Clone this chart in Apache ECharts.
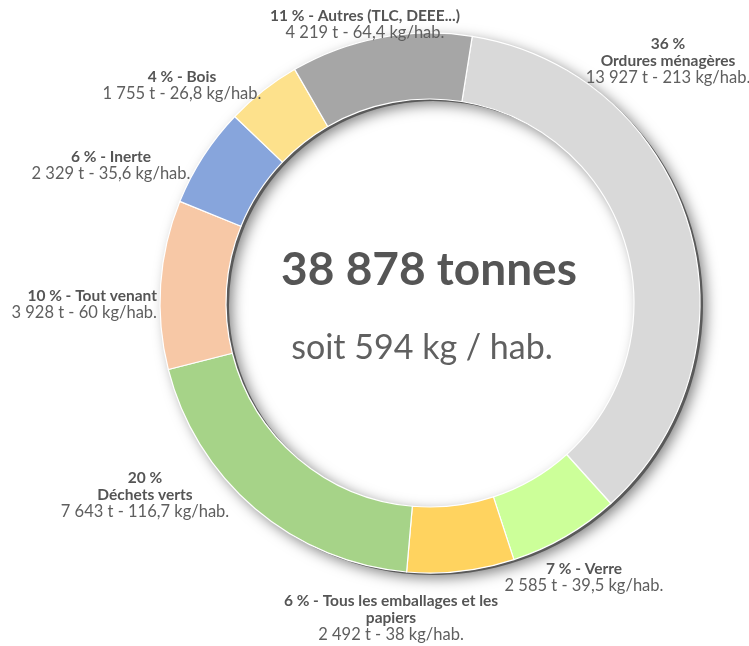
<!DOCTYPE html>
<html>
<head>
<meta charset="utf-8">
<script src="https://cdn.jsdelivr.net/npm/echarts@6/dist/echarts.min.js"></script>
<style>
  html, body { margin: 0; padding: 0; background: #fff; }
  #main { width: 749px; height: 646px; }
</style>
</head>
<body>
<div id="main"></div>
<script>
// ---- Data ----
const categories = ['Ordures ménagères', 'Verre', 'Tous les emballages et les\npapiers', 'Déchets verts', 'Tout venant', 'Inerte', 'Bois', 'Autres (TLC, DEEE...)'];
const tonnages = [13927, 2585, 2492, 7643, 3928, 2329, 1755, 4219];
const kgPerHab = [213, 39.5, 38, 116.7, 60, 35.6, 26.8, 64.4];
const percentLabels = [36, 7, 6, 20, 10, 6, 4, 11];

// ---- Styling / layout ----
const colors = ['#d9d9d9', '#ccff99', '#ffd35f', '#a6d388', '#f7c8a6', '#87a5dc', '#fde18c', '#a6a6a6'];
const stackedLabel = [true, false, false, true, false, false, false, false];
const labelAnchors = [
  [668, 35, 'center'],
  [584, 560, 'center'],
  [391, 592, 'center'],
  [145, 469, 'center'],
  [157, 287, 'right'],
  [111, 148, 'center'],
  [182, 68, 'center'],
  [365, 7, 'center']
];
const FONT = 'Lato, "Open Sans", sans-serif';

function fmtInt(n) {
  return String(Math.round(n)).replace(/\B(?=(\d{3})+(?!\d))/g, ' ');
}
function fmtDec(n) {
  return String(n).replace('.', ',');
}

const total = tonnages.reduce((a, b) => a + b, 0);
const totalKg = Math.round(kgPerHab.reduce((a, b) => a + b, 0));

const chart = echarts.init(document.getElementById('main'), null, { renderer: 'canvas' });

const option = {
  animation: false,
  backgroundColor: '#ffffff',
  graphic: [
    {
      type: 'text', x: 429, y: 270, z: 10,
      style: { text: fmtInt(total) + ' tonnes', fontSize: 46, fontWeight: 'bold', fontFamily: FONT, fill: '#555555', align: 'center', verticalAlign: 'middle' }
    },
    {
      type: 'text', x: 422, y: 348, z: 10,
      style: { text: 'soit ' + totalKg + ' kg / hab.', fontSize: 34, fontFamily: FONT, fill: '#606060', align: 'center', verticalAlign: 'middle' }
    }
  ],
  series: [
    {
      type: 'pie',
      silent: true,
      center: [433, 305],
      radius: [204, 270],
      startAngle: 81,
      label: { show: false },
      labelLine: { show: false },
      itemStyle: {
        color: '#5a5a5a',
        shadowBlur: 14,
        shadowOffsetX: 3,
        shadowOffsetY: 3,
        shadowColor: 'rgba(0,0,0,0.5)'
      },
      data: [{ value: total, name: 'base' }],
      z: 1
    },
    {
      type: 'pie',
      center: [430, 303],
      radius: [204, 270],
      startAngle: 81,
      clockwise: true,
      avoidLabelOverlap: false,
      itemStyle: { borderColor: '#ffffff', borderWidth: 1.2 },
      labelLine: { show: false },
      label: {
        show: true,
        position: 'outside',
        fontFamily: FONT,
        formatter: function (p) {
          const i = p.dataIndex;
          const pct = percentLabels[i] + ' %';
          const name = categories[i];
          const line2 = fmtInt(tonnages[i]) + ' t - ' + fmtDec(kgPerHab[i]) + ' kg/hab.';
          if (stackedLabel[i]) {
            return '{b|' + pct + '}\n{b|' + name + '}\n{n|' + line2 + '}';
          }
          const parts = (pct + ' - ' + name).split('\n');
          return parts.map(s => '{b|' + s + '}').join('\n') + '\n{n|' + line2 + '}';
        },
        rich: {
          b: { fontFamily: FONT, fontSize: 15.5, fontWeight: 'bold', color: '#555555', lineHeight: 17 },
          n: { fontFamily: FONT, fontSize: 16.5, color: '#5f5f5f', lineHeight: 17 }
        }
      },
      labelLayout: function (params) {
        const a = labelAnchors[params.dataIndex];
        return { x: a[0], y: a[1], align: a[2], verticalAlign: 'top' };
      },
      data: categories.map((c, i) => ({
        name: c,
        value: tonnages[i],
        itemStyle: { color: colors[i] }
      })),
      z: 2
    }
  ]
};

chart.setOption(option);
</script>
</body>
</html>
